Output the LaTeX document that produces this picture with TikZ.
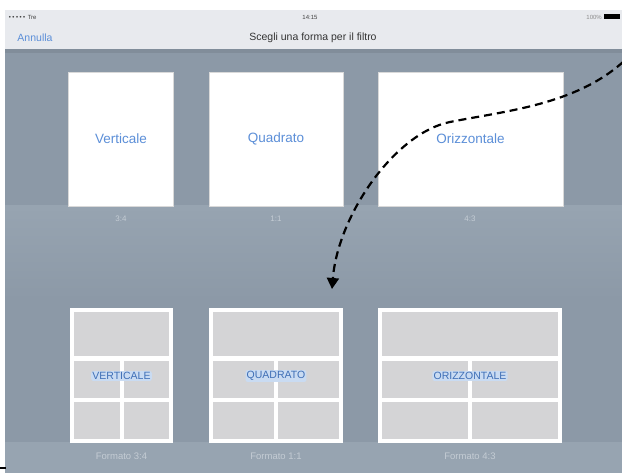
\documentclass[tikz,border=0pt]{standalone}
\usepackage{fontspec}
\setmainfont{Liberation Sans}
\newfontfamily\symfont{DejaVu Sans}
\usetikzlibrary{arrows.meta}
\definecolor{bgmain}{HTML}{8C99A7}
\definecolor{bglight}{HTML}{97A4B1}
\definecolor{barbg}{HTML}{E8EAEE}
\definecolor{cellgray}{HTML}{D4D4D6}
\definecolor{iosblue}{HTML}{5C8FD8}
\definecolor{capblue}{HTML}{3F6FB6}
\definecolor{hiblue}{HTML}{C9DBF2}
\definecolor{captext}{HTML}{C4CCD4}
\tikzset{
  topcard/.style={fill=white, draw=white!85!black, line width=0.6pt, inner sep=0pt,
    text=iosblue, font=\fontsize{13.5}{15}\selectfont},
  ratiotxt/.style={text=captext, font=\fontsize{8}{9}\selectfont, inner sep=0pt},
  formtxt/.style={text=captext, font=\fontsize{9.5}{11}\selectfont, inner sep=0pt},
  gridlabel/.style={fill=hiblue, text=capblue, inner sep=1.2pt, rounded corners=2pt,
    font=\fontsize{10.5}{12}\selectfont},
  cell/.style={fill=cellgray},
  dasharrow/.style={line width=2.2pt, dash pattern=on 8pt off 5pt, -{Triangle[length=11pt,width=12pt]}}
}
\newcommand\gridcard[5]{% name, x0, x1, label, caption
  \pgfmathsetmacro\gxa{#2}\pgfmathsetmacro\gxb{#3}\pgfmathsetmacro\gxc{(#2+#3)/2}
  \node[fill=white, inner sep=0pt, minimum width={(#3-#2)*1pt}, minimum height=135pt]
    (#1) at ({\gxc},375.5) {};
  \fill[cell] ({\gxa+4},312) rectangle ({\gxb-4},356);
  \fill[cell] ({\gxa+4},361) rectangle ({\gxc-2},398);
  \fill[cell] ({\gxc+2},361) rectangle ({\gxb-4},398);
  \fill[cell] ({\gxa+4},402) rectangle ({\gxc-2},439);
  \fill[cell] ({\gxc+2},402) rectangle ({\gxb-4},439);
  \node[gridlabel] (#1l) at ({\gxc},376) {#4};
  \node[formtxt] (#1c) at ({\gxc},456) {#5};
}
\begin{document}
\begin{tikzpicture}[x=1pt,y=-1pt]
\useasboundingbox (0,0) rectangle (622,473);
\fill[white] (0,0) rectangle (622,473);
% screen background
\fill[bgmain] (5,50) rectangle (622,473);
\fill[bgmain!92!black] (5,49) rectangle (622,53);
\shade[top color=bglight, bottom color=bgmain] (5,206) rectangle (622,300);
\fill[bglight] (5,442) rectangle (622,473);
% status + nav bar
\fill[barbg] (5,10) rectangle (622,49);
\node[font=\fontsize{6}{7}\selectfont, text=black!75, anchor=west, inner sep=0pt] (carrier) at (8,17) {\symfont •••••\ \rmfamily Tre};
\node[font=\fontsize{6}{7}\selectfont, text=black!75, inner sep=0pt] (clock) at (310,17) {14:15};
\node[font=\fontsize{6}{7}\selectfont, text=black!45, anchor=east, inner sep=0pt] (pct) at (602,17) {100\%};
\fill[black] (604,14.5) rectangle (620,19.5);
\node[font=\fontsize{10.5}{12}\selectfont, text=iosblue, inner sep=0pt] (cancel) at (35,38) {Annulla};
\node[font=\fontsize{10.5}{12}\selectfont, text=black!80, inner sep=0pt] (title) at (313,38) {Scegli una forma per il filtro};
% top cards
\node[topcard, minimum width=105pt, minimum height=134pt] (tv) at (121,139) {Verticale};
\node[topcard, minimum width=134pt, minimum height=134pt] (tq) at (276,139) {Quadrato};
\node[topcard, minimum width=185pt, minimum height=134pt] (to) at (470.5,139) {Orizzontale};
\node[ratiotxt] (rv) at (121,219) {3:4};
\node[ratiotxt] (rq) at (276,219) {1:1};
\node[ratiotxt] (ro) at (470,219) {4:3};
% bottom grid cards
\gridcard{bv}{70}{173}{VERTICALE}{Formato 3:4}
\gridcard{bq}{209}{343}{QUADRATO}{Formato 1:1}
\gridcard{bo}{378}{562}{ORIZZONTALE}{Formato 4:3}
% dashed arrow
\coordinate (astart) at (623,62);
\coordinate (amid) at (450,122);
\coordinate (aend) at (332,289);
\draw[dasharrow] (astart) .. controls (575,105) and (505,111) .. (amid)
  .. controls (395,133) and (338,215) .. (aend);
% small mark bottom-left
\coordinate (mk1) at (0,468);
\coordinate (mk2) at (6,468);
\draw[black, line width=1.5pt] (mk1) -- (mk2);
\end{tikzpicture}
\end{document}
